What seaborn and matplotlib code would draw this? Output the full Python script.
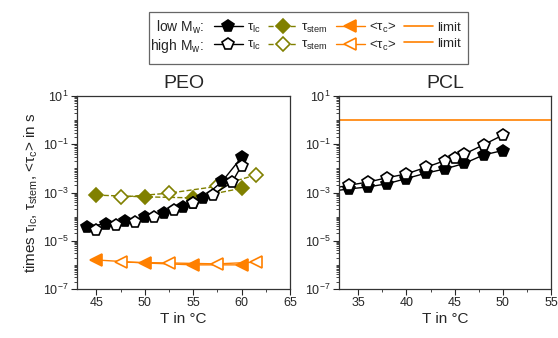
import numpy as np
import pandas as pd
import matplotlib
matplotlib.use('Agg')
import matplotlib.pyplot as plt
import matplotlib.ticker as mticker
from matplotlib.lines import Line2D
from matplotlib.patches import Rectangle
import seaborn as sns

# PEO, low Mw: lamellar crystallisation time
peo_lc_low_T = [44, 46, 48, 50, 52, 54, 55, 56, 58, 60]
peo_lc_low = [3.8e-5, 5.1e-5, 6.3e-5, 9.5e-5, 1.4e-4, 2.5e-4, 3.6e-4, 5.9e-4, 2.9e-3, 2.9e-2]
# PEO, high Mw
peo_lc_high_T = [45, 47, 49, 51, 53, 55, 57, 59, 60]
peo_lc_high = [2.7e-5, 4.6e-5, 5.8e-5, 1.0e-4, 1.9e-4, 3.5e-4, 8.1e-4, 2.6e-3, 1.3e-2]
# PEO stem times
peo_stem_low_T = [45, 50, 55, 60]
peo_stem_low = [7.8e-4, 6.6e-4, 6.0e-4, 1.5e-3]
peo_stem_high_T = [47.5, 52.5, 57.5, 61.5]
peo_stem_high = [6.4e-4, 9.4e-4, 1.8e-3, 5.4e-3]
# PEO <tau_c>
peo_tc_low_T = [45, 50, 55, 60]
peo_tc_low = [1.6e-6, 1.2e-6, 1.0e-6, 1.0e-6]
peo_tc_high_T = [47.5, 52.5, 57.5, 61.5]
peo_tc_high = [1.3e-6, 1.2e-6, 1.1e-6, 1.3e-6]

# PCL lamellar crystallisation times
pcl_low_T = [32, 34, 36, 38, 40, 42, 44, 46, 48, 50]
pcl_low = [1.1e-3, 1.4e-3, 1.7e-3, 2.3e-3, 3.8e-3, 6.3e-3, 9.5e-3, 1.6e-2, 3.6e-2, 5.5e-2]
pcl_high_T = [32, 34, 36, 38, 40, 42, 44, 45, 46, 48, 50]
pcl_high = [1.4e-3, 2.0e-3, 2.7e-3, 4.1e-3, 5.9e-3, 1.1e-2, 2.1e-2, 2.6e-2, 3.9e-2, 9.5e-2, 2.4e-1]
limit = 1.0

OLIVE = '#808000'
ORANGE = '#ff8000'

sns.set_style('ticks')
plt.rcParams['font.family'] = ['Liberation Sans', 'DejaVu Sans']
plt.rcParams['mathtext.fontset'] = 'custom'
plt.rcParams['mathtext.rm'] = 'Liberation Sans'
plt.rcParams['mathtext.it'] = 'Liberation Sans:italic'

W, H = 558, 338
fig = plt.figure(figsize=(W / 100, H / 100), dpi=100)
ax1 = fig.add_axes([77 / W, 1 - 289 / H, 213 / W, 193 / H])
ax2 = fig.add_axes([339 / W, 1 - 289 / H, 212 / W, 193 / H])

MS = 8.5


def series(ax, x, y, color, marker, filled, ls='-', ms=MS):
    fc = color if filled else 'white'
    sns.lineplot(x=x, y=y, ax=ax, color=color, linestyle=ls, linewidth=1,
                 marker=marker, markersize=ms, markerfacecolor=fc,
                 markeredgecolor=color, markeredgewidth=1.2, sort=False)


# PEO panel
series(ax1, peo_tc_low_T, peo_tc_low, ORANGE, '<', True)
series(ax1, peo_tc_high_T, peo_tc_high, ORANGE, '<', False)
series(ax1, peo_stem_low_T, peo_stem_low, OLIVE, 'D', True, ls='--', ms=7)
series(ax1, peo_stem_high_T, peo_stem_high, OLIVE, 'D', False, ls='--', ms=7)
series(ax1, peo_lc_low_T, peo_lc_low, 'black', 'p', True)
series(ax1, peo_lc_high_T, peo_lc_high, 'black', 'p', False)

# PCL panel
ax2.axhline(limit, color=ORANGE, lw=1.2)
series(ax2, pcl_low_T, pcl_low, 'black', 'p', True)
series(ax2, pcl_high_T, pcl_high, 'black', 'p', False)

for ax, xlim, title in [(ax1, (43, 65), 'PEO'), (ax2, (33, 55), 'PCL')]:
    ax.set_yscale('log')
    ax.set_ylim(1e-7, 10)
    ax.set_xlim(*xlim)
    ax.xaxis.set_major_locator(mticker.MultipleLocator(5))
    ax.xaxis.set_minor_locator(mticker.MultipleLocator(2.5))
    ax.yaxis.set_major_locator(mticker.FixedLocator([1e-7, 1e-5, 1e-3, 1e-1, 1e1]))
    ax.yaxis.set_major_formatter(mticker.LogFormatterSciNotation())
    ax.yaxis.set_minor_locator(mticker.LogLocator(base=10, subs=np.arange(1, 10), numticks=30))
    ax.yaxis.set_minor_formatter(mticker.NullFormatter())
    ax.tick_params(which='major', direction='out', length=4, width=0.8, labelsize=9, pad=2)
    ax.tick_params(which='minor', direction='out', length=2.5, width=0.6)
    for s in ax.spines.values():
        s.set_visible(True)
        s.set_linewidth(0.9)
        s.set_color('#333333')
    ax.set_title(title, fontsize=14, pad=6)
    ax.set_xlabel('T in °C', fontsize=11, labelpad=2)
    ax.set_ylabel('')

ax1.set_ylabel('times τ$_\\mathregular{lc}$, τ$_\\mathregular{stem}$, <τ$_\\mathregular{c}$> in s',
               fontsize=11, labelpad=2)

# legend: frame and row labels drawn by hand, entries via fig.legend
fig.add_artist(Rectangle((149 / W, 1 - 64 / H), 319 / W, 52 / H, transform=fig.transFigure,
                         facecolor='white', edgecolor='#666666', linewidth=0.9))
fig.text(204 / W, 1 - 27 / H, 'low M$_\\mathregular{w}$:', ha='right', va='center', fontsize=10)
fig.text(204 / W, 1 - 46 / H, 'high M$_\\mathregular{w}$:', ha='right', va='center', fontsize=10)


def h(color, marker, filled, ls='-', ms=MS):
    return Line2D([], [], color=color, linestyle=ls, linewidth=1, marker=marker, markersize=ms,
                  markerfacecolor=color if filled else 'white', markeredgecolor=color, markeredgewidth=1.2)


handles = [h('black', 'p', True), h('black', 'p', False),
           h(OLIVE, 'D', True, '--', 7), h(OLIVE, 'D', False, '--', 7),
           h(ORANGE, '<', True), h(ORANGE, '<', False),
           Line2D([], [], color=ORANGE, lw=1.2), Line2D([], [], color=ORANGE, lw=1.2)]
labels = ['τ$_\\mathregular{lc}$', 'τ$_\\mathregular{lc}$',
          'τ$_\\mathregular{stem}$', 'τ$_\\mathregular{stem}$',
          '<τ$_\\mathregular{c}$>', '<τ$_\\mathregular{c}$>',
          'limit', 'limit']
leg = fig.legend(handles, labels, ncol=4, loc='center left', bbox_to_anchor=(203 / W, 1 - 37 / H),
                 fontsize=9.5, frameon=False,
                 handlelength=2.2, handletextpad=0.3, columnspacing=0.6, labelspacing=0.3,
                 borderpad=0.3)

fig.savefig('out.png', dpi=100)
